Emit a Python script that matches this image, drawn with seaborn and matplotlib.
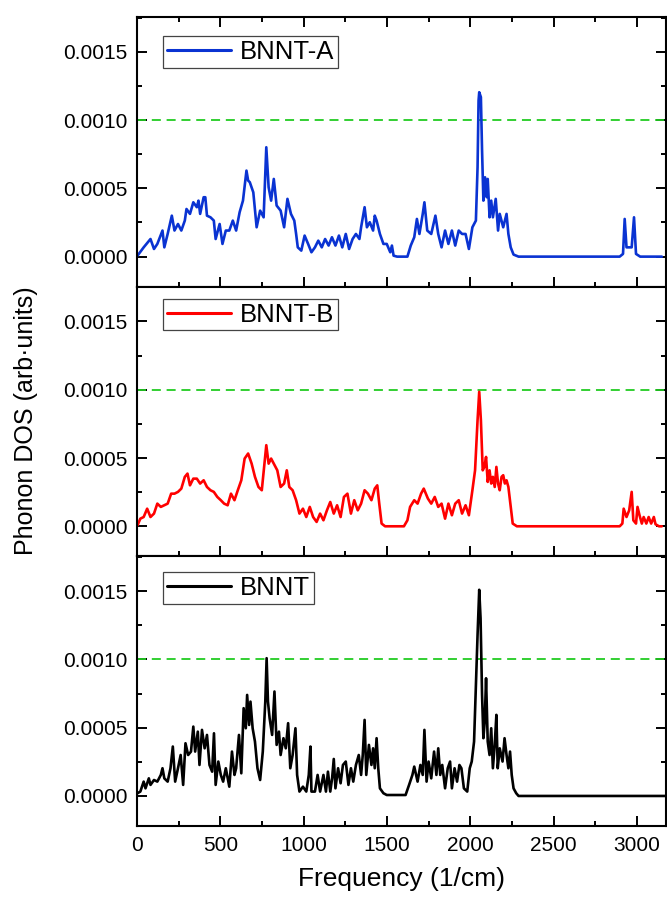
import matplotlib
matplotlib.use("Agg")
import matplotlib.pyplot as plt
from matplotlib.ticker import MultipleLocator, FormatStrFormatter
import pandas as pd
import seaborn as sns

# ---------------- phonon DOS data (frequency in 1/cm, DOS in arb. units) ----------------
freq_a = [3, 40, 81, 102, 122, 153, 164, 184, 209, 225, 246, 266, 287, 297, 318, 338, 359, 369,
          379, 400, 410, 420, 441, 461, 472, 496, 513, 533, 554, 575, 595, 616, 636, 657, 667,
          677, 698, 718, 739, 760, 776, 790, 805, 821, 838, 862, 883, 903, 924, 944, 955, 965,
          986, 1006, 1027, 1047, 1068, 1088, 1109, 1129, 1150, 1170, 1191, 1212, 1232, 1253,
          1273, 1294, 1314, 1335, 1345, 1366, 1380, 1397, 1417, 1427, 1438, 1458, 1479, 1499,
          1520, 1530, 1540, 1561, 1623, 1643, 1664, 1680, 1695, 1715, 1725, 1742, 1766, 1791,
          1808, 1828, 1849, 1869, 1890, 1910, 1931, 1951, 1972, 1992, 2013, 2034, 2044, 2050,
          2054, 2064, 2071, 2079, 2089, 2099, 2105, 2116, 2126, 2136, 2153, 2167, 2177, 2198,
          2218, 2229, 2243, 2260, 2290, 2897, 2917, 2927, 2938, 2969, 2983, 2995, 3020, 3150]
dos_a = [0.000007, 0.000068, 0.000129, 0.000056, 0.000093, 0.000191, 0.000068, 0.000166,
         0.000300, 0.000191, 0.000239, 0.000191, 0.000264, 0.000349, 0.000313, 0.000398,
         0.000362, 0.000410, 0.000313, 0.000435, 0.000435, 0.000300, 0.000288, 0.000264,
         0.000129, 0.000239, 0.000093, 0.000191, 0.000191, 0.000264, 0.000191, 0.000325,
         0.000410, 0.000630, 0.000557, 0.000545, 0.000471, 0.000215, 0.000337, 0.000288,
         0.000801, 0.000508, 0.000410, 0.000569, 0.000374, 0.000337, 0.000215, 0.000423,
         0.000313, 0.000264, 0.000166, 0.000068, 0.000044, 0.000154, 0.000093, 0.000032,
         0.000068, 0.000117, 0.000068, 0.000129, 0.000081, 0.000142, 0.000081, 0.000154,
         0.000068, 0.000166, 0.000056, 0.000129, 0.000166, 0.000129, 0.000215, 0.000362,
         0.000215, 0.000252, 0.000191, 0.000300, 0.000264, 0.000166, 0.000093, 0.000093,
         0.000032, 0.000081, 0.000007, 0.0, 0.0, 0.000081, 0.000142, 0.000276, 0.000166,
         0.000313, 0.000398, 0.000191, 0.000166, 0.000300, 0.000166, 0.000068, 0.000191,
         0.000093, 0.000191, 0.000081, 0.000191, 0.000166, 0.000166, 0.000056, 0.000215,
         0.000264, 0.000655, 0.001143, 0.001204, 0.001168, 0.000777, 0.000410, 0.000581,
         0.000435, 0.000569, 0.000288, 0.000410, 0.000288, 0.000423, 0.000191, 0.000313,
         0.000215, 0.000313, 0.000166, 0.000068, 0.000015, 0.0, 0.0, 0.000020, 0.000276,
         0.000068, 0.000068, 0.000288, 0.000020, 0.0, 0.0]

freq_b = [3, 20, 40, 61, 81, 102, 122, 143, 164, 184, 205, 225, 246, 266, 287, 303, 318, 338,
          359, 379, 400, 420, 441, 461, 482, 503, 523, 544, 564, 585, 605, 626, 646, 667, 688,
          708, 729, 749, 776, 790, 805, 821, 842, 862, 883, 899, 914, 934, 955, 975, 996, 1016,
          1037, 1057, 1078, 1099, 1119, 1140, 1160, 1181, 1201, 1222, 1242, 1263, 1284, 1304,
          1325, 1345, 1366, 1386, 1407, 1427, 1442, 1454, 1468, 1489, 1602, 1623, 1639, 1664,
          1684, 1705, 1721, 1746, 1766, 1787, 1808, 1828, 1849, 1869, 1890, 1910, 1931, 1951,
          1972, 1992, 2013, 2029, 2044, 2054, 2064, 2075, 2085, 2095, 2105, 2116, 2126, 2136,
          2147, 2157, 2167, 2177, 2188, 2198, 2208, 2218, 2229, 2243, 2255, 2280, 2897, 2913,
          2921, 2938, 2954, 2969, 2979, 2995, 3004, 3016, 3030, 3041, 3057, 3071, 3086, 3102,
          3112, 3133, 3150]
dos_b = [0.000007, 0.000056, 0.000068, 0.000129, 0.000068, 0.000093, 0.000166, 0.000142,
         0.000154, 0.000166, 0.000239, 0.000239, 0.000252, 0.000276, 0.000362, 0.000386,
         0.000300, 0.000349, 0.000349, 0.000313, 0.000337, 0.000288, 0.000264, 0.000252,
         0.000215, 0.000191, 0.000166, 0.000154, 0.000239, 0.000191, 0.000264, 0.000337,
         0.000496, 0.000533, 0.000459, 0.000362, 0.000288, 0.000264, 0.000594, 0.000459,
         0.000496, 0.000459, 0.000410, 0.000288, 0.000313, 0.000410, 0.000288, 0.000264,
         0.000191, 0.000093, 0.000129, 0.000068, 0.000142, 0.000068, 0.000032, 0.000093,
         0.000044, 0.000117, 0.000178, 0.000093, 0.000154, 0.000068, 0.000215, 0.000239,
         0.000093, 0.000191, 0.000117, 0.000166, 0.000264, 0.000239, 0.000191, 0.000276,
         0.000300, 0.000166, 0.000020, 0.0, 0.0, 0.000044, 0.000142, 0.000191, 0.000166,
         0.000239, 0.000276, 0.000203, 0.000166, 0.000215, 0.000142, 0.000166, 0.000056,
         0.000166, 0.000081, 0.000166, 0.000191, 0.000093, 0.000154, 0.000081, 0.000264,
         0.000410, 0.000777, 0.000985, 0.000777, 0.000410, 0.000435, 0.000508, 0.000325,
         0.000410, 0.000313, 0.000362, 0.000288, 0.000435, 0.000313, 0.000264, 0.000362,
         0.000374, 0.000313, 0.000337, 0.000288, 0.000142, 0.000020, 0.0, 0.0, 0.000020,
         0.000129, 0.000068, 0.000117, 0.000252, 0.000044, 0.000020, 0.000142, 0.000081,
         0.000020, 0.000068, 0.000020, 0.000068, 0.000020, 0.000068, 0.000015, 0.0, 0.0]

freq_p = [3, 20, 40, 51, 71, 81, 102, 122, 143, 153, 164, 184, 201, 215, 229, 246, 262, 277,
          291, 307, 324, 338, 349, 365, 375, 390, 406, 420, 435, 451, 462, 472, 488, 503, 517,
          533, 554, 570, 585, 595, 612, 626, 640, 653, 661, 673, 681, 694, 708, 723, 739, 755,
          770, 778, 786, 796, 811, 825, 838, 852, 862, 879, 893, 907, 920, 934, 951, 961, 975,
          996, 1016, 1031, 1041, 1047, 1068, 1084, 1099, 1119, 1134, 1146, 1160, 1171, 1181,
          1191, 1207, 1222, 1236, 1253, 1269, 1284, 1298, 1314, 1331, 1345, 1355, 1366, 1376,
          1392, 1407, 1417, 1427, 1438, 1448, 1458, 1479, 1499, 1612, 1633, 1653, 1664, 1684,
          1701, 1715, 1725, 1738, 1750, 1766, 1783, 1797, 1808, 1820, 1832, 1849, 1865, 1879,
          1890, 1906, 1921, 1935, 1947, 1962, 1982, 1997, 2009, 2023, 2034, 2044, 2054, 2062,
          2071, 2079, 2087, 2095, 2105, 2116, 2126, 2136, 2147, 2157, 2165, 2177, 2194, 2206,
          2218, 2229, 2239, 2249, 2260, 2276, 2290, 3175]
dos_p = [0.000020, 0.000032, 0.000105, 0.000056, 0.000129, 0.000081, 0.000117, 0.000105,
         0.000154, 0.000203, 0.000129, 0.000105, 0.000203, 0.000362, 0.000105, 0.000203,
         0.000300, 0.000081, 0.000386, 0.000300, 0.000325, 0.000508, 0.000325, 0.000471,
         0.000227, 0.000484, 0.000349, 0.000447, 0.000227, 0.000178, 0.000459, 0.000081,
         0.000252, 0.000154, 0.000105, 0.000203, 0.000068, 0.000325, 0.000154, 0.000203,
         0.000447, 0.000166, 0.000643, 0.000496, 0.000740, 0.000520, 0.000691, 0.000496,
         0.000398, 0.000203, 0.000117, 0.000325, 0.000691, 0.001009, 0.000691, 0.000569,
         0.000447, 0.000765, 0.000374, 0.000471, 0.000300, 0.000423, 0.000349, 0.000533,
         0.000203, 0.000300, 0.000496, 0.000154, 0.000032, 0.000068, 0.000032, 0.000154,
         0.000362, 0.000032, 0.000032, 0.000154, 0.000032, 0.000154, 0.000032, 0.000178,
         0.000032, 0.000129, 0.000271, 0.000056, 0.000203, 0.000093, 0.000227, 0.000252,
         0.000081, 0.000203, 0.000105, 0.000227, 0.000300, 0.000154, 0.000300, 0.000557,
         0.000154, 0.000374, 0.000227, 0.000349, 0.000203, 0.000423, 0.000203, 0.000056,
         0.000020, 0.000007, 0.000007, 0.000081, 0.000154, 0.000215, 0.000105, 0.000227,
         0.000154, 0.000484, 0.000105, 0.000252, 0.000129, 0.000325, 0.000154, 0.000349,
         0.000154, 0.000227, 0.000056, 0.000203, 0.000252, 0.000056, 0.000203, 0.000105,
         0.000227, 0.000203, 0.000056, 0.000032, 0.000203, 0.000252, 0.000398, 0.000814,
         0.001180, 0.001510, 0.001302, 0.000740, 0.000423, 0.000545, 0.000862, 0.000398,
         0.000300, 0.000496, 0.000203, 0.000374, 0.000594, 0.000203, 0.000349, 0.000252,
         0.000423, 0.000300, 0.000203, 0.000325, 0.000154, 0.000056, 0.000020, 0.0, 0.0]

series_names = ["BNNT-A", "BNNT-B", "BNNT"]
series_colors = ["#0a33d2", "#ff0000", "#000000"]
reference_level = 0.0010
x_ticks = [0, 500, 1000, 1500, 2000, 2500, 3000]
y_ticks = [0.0, 0.0005, 0.0010, 0.0015]

frames = [
    pd.DataFrame({"freq": freq_a, "dos": dos_a}),
    pd.DataFrame({"freq": freq_b, "dos": dos_b}),
    pd.DataFrame({"freq": freq_p, "dos": dos_p}),
]

# ---------------- styling ----------------
sns.set_theme(style="ticks")
plt.rcParams["font.family"] = ["Liberation Sans", "DejaVu Sans"]
plt.rcParams["axes.linewidth"] = 1.5
plt.rcParams["text.color"] = "black"
plt.rcParams["axes.labelcolor"] = "black"
plt.rcParams["xtick.color"] = "black"
plt.rcParams["ytick.color"] = "black"
plt.rcParams["xtick.labelcolor"] = "black"
plt.rcParams["ytick.labelcolor"] = "black"

fig = plt.figure(figsize=(6.67, 9.01), dpi=100)
gs = fig.add_gridspec(3, 1, left=137 / 667, right=666 / 667,
                      top=1 - 17 / 901, bottom=1 - 826 / 901, hspace=0)

legend_tops = [1 - 19 / 270, 1 - 12 / 270, 1 - 15.5 / 270]

for i, (df, name, color) in enumerate(zip(frames, series_names, series_colors)):
    ax = fig.add_subplot(gs[i])
    sns.lineplot(data=df, x="freq", y="dos", ax=ax, color=color, lw=1.9,
                 estimator=None, sort=False, label=name)
    ax.axhline(reference_level, color="#22cc22", lw=1.3, dashes=(5, 3.2), zorder=1)

    ax.set_xlim(0, 3175)
    ax.set_ylim(-0.00022, 0.001755)
    ax.xaxis.set_major_locator(MultipleLocator(500))
    ax.xaxis.set_minor_locator(MultipleLocator(250))
    ax.set_yticks(y_ticks)
    ax.yaxis.set_minor_locator(MultipleLocator(0.00025))
    ax.yaxis.set_major_formatter(FormatStrFormatter("%.4f"))
    ax.set_xlabel("")
    ax.set_ylabel("")

    ax.tick_params(axis="both", which="both", direction="in", color="black",
                   labelcolor="black", labelsize=15, width=1.4, pad=7,
                   right=True, top=(i == 0), bottom=True, left=True)
    ax.tick_params(which="major", length=7.2)
    ax.tick_params(which="minor", length=3.6)
    if i < 2:
        ax.tick_params(axis="x", labelbottom=False)
    else:
        ax.set_xticks(x_ticks)
        ax.set_xlabel("Frequency (1/cm)", fontsize=19, labelpad=9, color="black")

    for s in ax.spines.values():
        s.set_linewidth(1.5)
        s.set_color("black")

    leg = ax.legend(loc="upper left", bbox_to_anchor=(26 / 529, legend_tops[i]),
                    borderaxespad=0, fontsize=18.5, handlelength=2.5,
                    handletextpad=0.35, borderpad=0.15, fancybox=False,
                    framealpha=1, edgecolor="#444444")
    leg.get_frame().set_linewidth(0.9)
    for t in leg.get_texts():
        t.set_color("black")
    for h in leg.get_lines():
        h.set_linewidth(2.2)

fig.text(26 / 667, 1 - 421 / 901, "Phonon DOS (arb\u00b7units)", rotation=90,
         ha="center", va="center", fontsize=18, color="black")

fig.savefig("out.png", dpi=100)
